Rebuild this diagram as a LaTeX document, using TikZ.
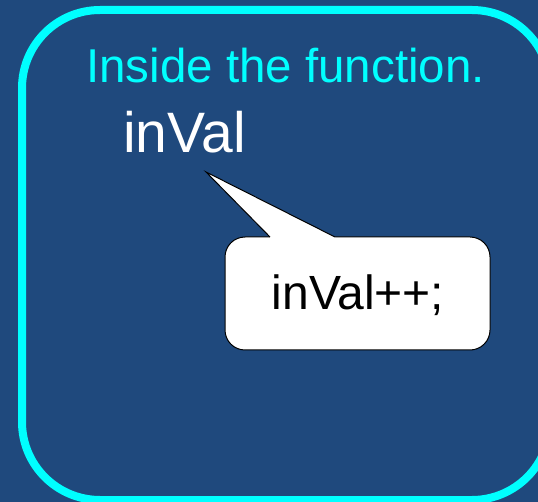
\documentclass[tikz,border=0pt]{standalone}
\usepackage{fontspec}
\setmainfont{Liberation Sans}
\usetikzlibrary{calc}
\definecolor{slidebg}{HTML}{1F497D}
\definecolor{framecyan}{HTML}{00FFFF}
\begin{document}
\begin{tikzpicture}[x=1pt,y=-1pt,
  panel/.style={draw=framecyan,line width=8pt,rounded corners=78pt},
  bubble/.style={draw=black,fill=white,line width=1pt,rounded corners=20pt,
    minimum width=265pt,minimum height=113pt,inner sep=0pt},
  heading/.style={text=framecyan,font=\fontsize{47.5}{56}\selectfont,inner sep=0pt,anchor=base},
  varname/.style={text=white,font=\fontsize{57}{66}\selectfont,inner sep=0pt,anchor=base west},
  code/.style={text=black,font=\fontsize{48}{57}\selectfont,inner sep=0pt,anchor=base}
]
\useasboundingbox (0,0) rectangle (538,502);
\clip (0,0) rectangle (538,502);
\fill[slidebg] (0,0) rectangle (538,502);

% rounded frame, partly running off the right and bottom edges
\draw[panel] (22,10) rectangle (550,500);

\node[heading] (title) at (285.5,83) {Inside the function.};
\node[varname] (var) at (123,152.5) {inVal};

% speech bubble with its pointer
\node[bubble] (bubble) at (357.5,293.5) {};
\coordinate (tip) at (206,172);
\coordinate (pl) at (270,237);
\coordinate (pr) at (335,237);
\fill[white] (pl) -- (tip) -- (pr) -- ($(pr)+(0,2)$) -- ($(pl)+(0,2)$) -- cycle;
\draw[line width=1pt,line join=miter] (pl) -- (tip) -- (pr);
\node[code] (incr) at (358,310) {inVal++;};
\end{tikzpicture}
\end{document}
